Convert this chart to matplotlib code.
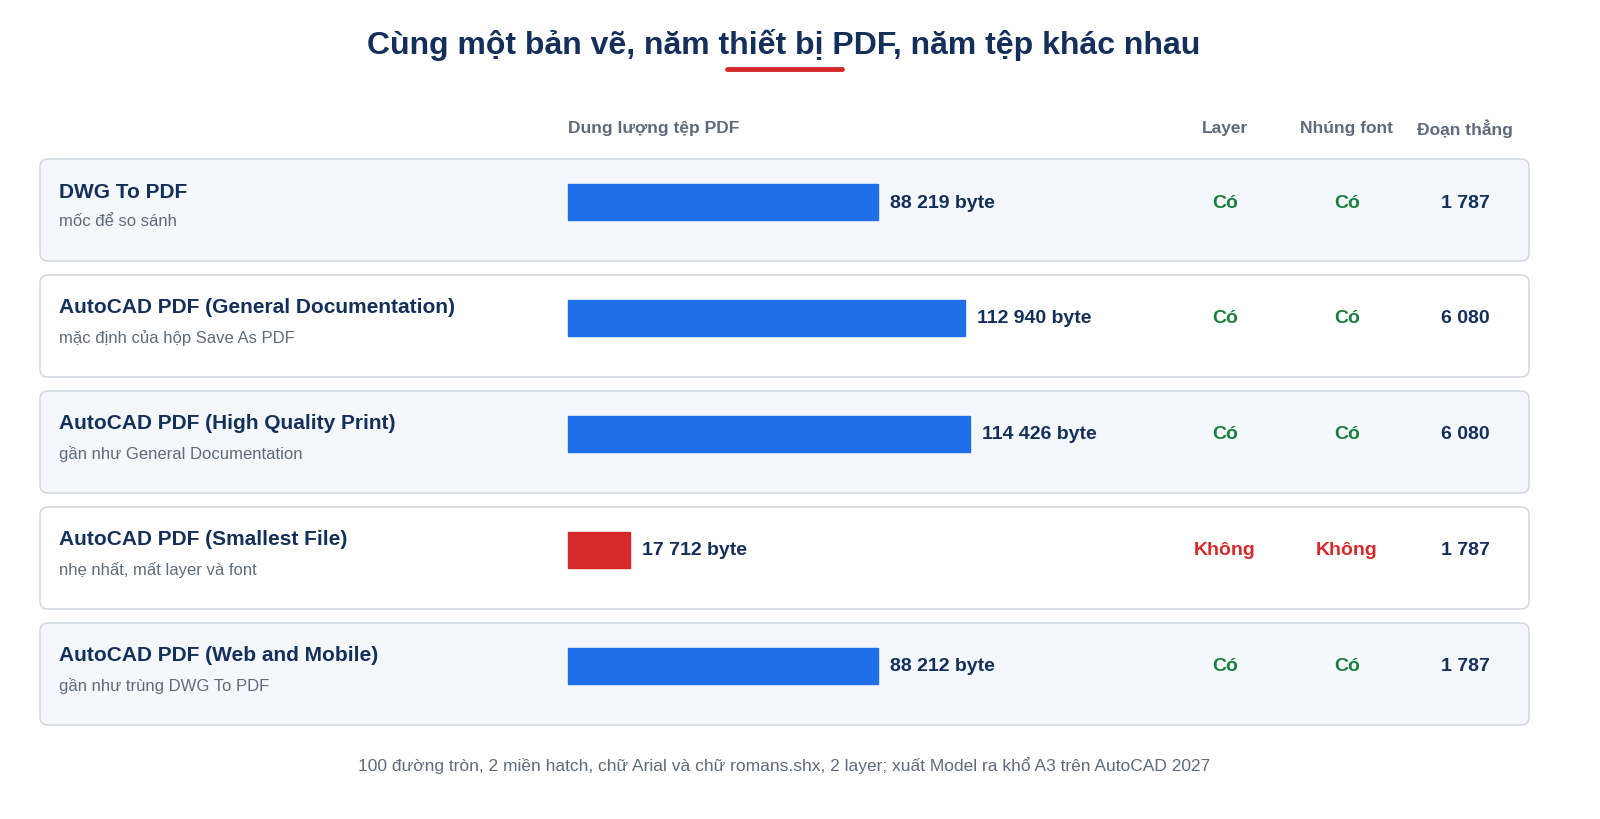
import matplotlib
matplotlib.use("Agg")
import matplotlib.pyplot as plt
from matplotlib.patches import FancyBboxPatch

plt.rcParams['font.family'] = ['Liberation Sans', 'DejaVu Sans']

names = ["DWG To PDF", "AutoCAD PDF (General Documentation)", "AutoCAD PDF (High Quality Print)",
         "AutoCAD PDF (Smallest File)", "AutoCAD PDF (Web and Mobile)"]
subs = ["mốc để so sánh", "mặc định của hộp Save As PDF", "gần như General Documentation",
        "nhẹ nhất, mất layer và font", "gần như trùng DWG To PDF"]
sizes = [88219, 112940, 114426, 17712, 88212]
size_labels = ["88 219 byte", "112 940 byte", "114 426 byte", "17 712 byte", "88 212 byte"]
layer = ["Có", "Có", "Có", "Không", "Có"]
font = ["Có", "Có", "Có", "Không", "Có"]
segments = ["1 787", "6 080", "6 080", "1 787", "1 787"]

NAVY = "#14305a"; BLUE = "#1f6fe8"; RED = "#d62a2a"; GREEN = "#1a7f3c"; GRAY = "#5f6b7a"

fig = plt.figure(figsize=(16, 8.2), dpi=100)
ax = fig.add_axes([0, 0, 1, 1])
ax.set_xlim(0, 1600); ax.set_ylim(820, 0); ax.axis("off")

ax.text(784, 45, "Cùng một bản vẽ, năm thiết bị PDF, năm tệp khác nhau", ha="center", va="center",
        fontsize=23, fontweight="bold", color=NAVY)
ax.plot([727, 842], [70, 70], color=RED, lw=3.5, solid_capstyle="round")

for x, t, ha in [(568, "Dung lượng tệp PDF", "left"), (1225, "Layer", "center"),
                 (1347, "Nhúng font", "center"), (1465, "Đoạn thẳng", "center")]:
    ax.text(x, 129, t, ha=ha, va="center", fontsize=12.5, fontweight="bold", color=GRAY)

scale = 310 / 88219
x0 = 568
for i in range(5):
    top = 160 + i * 116
    cy = top + 43
    fc = "#f4f7fb" if i % 2 == 0 else "white"
    ax.add_patch(FancyBboxPatch((40, top), 1489, 102, boxstyle="round,pad=0,rounding_size=8",
                                fc=fc, ec="#cdd5df", lw=1))
    ax.text(59, top + 32, names[i], va="center", fontsize=15, fontweight="bold", color=NAVY)
    ax.text(59, top + 62, subs[i], va="center", fontsize=12, color=GRAY)
    col = RED if layer[i] == "Không" else BLUE
    ax.barh(cy, sizes[i] * scale, left=x0, height=36, color=col, edgecolor=col, lw=1)
    ax.text(x0 + sizes[i] * scale + 12, cy, size_labels[i], va="center", fontsize=14,
            fontweight="bold", color=NAVY)
    for x, v in [(1225, layer[i]), (1347, font[i])]:
        ax.text(x, cy, v, ha="center", va="center", fontsize=14, fontweight="bold",
                color=RED if v == "Không" else GREEN)
    ax.text(1465, cy, segments[i], ha="center", va="center", fontsize=14, fontweight="bold", color=NAVY)

ax.text(784, 766, "100 đường tròn, 2 miền hatch, chữ Arial và chữ romans.shx, 2 layer; xuất Model ra khổ A3 trên AutoCAD 2027",
        ha="center", va="center", fontsize=12.5, color=GRAY)

fig.savefig("out.png", dpi=100, facecolor="white")
